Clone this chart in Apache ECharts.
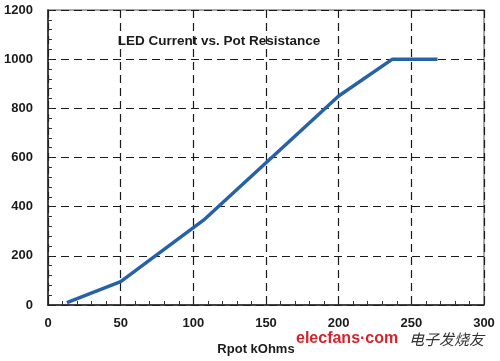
<!DOCTYPE html>
<html><head><meta charset="utf-8">
<script src="https://cdn.jsdelivr.net/npm/echarts@6/dist/echarts.min.js"></script>
<style>html,body{margin:0;padding:0;background:#fff}#c{width:500px;height:361px}</style>
</head><body><div id="c"></div>
<script>
const rpot = [13, 50, 107, 200, 237, 268];
const current = [10, 95, 345, 850, 1000, 1000];
const title = 'LED Current vs. Pot Resistance';
const xName = 'Rpot kOhms';

const chart = echarts.init(document.getElementById('c'), null, {renderer: 'canvas'});
const font = 'Arial';
chart.setOption({
  animation: false,
  backgroundColor: '#fff',
  grid: {left: 48, right: 16, top: 10, bottom: 54, show: true, borderColor: '#8a8a8a', borderWidth: 1.5},
  title: {text: title, left: 214, top: 29, textAlign: 'center',
    textStyle: {fontFamily: font, fontSize: 13.5, fontWeight: 'bold', color: '#1a1a1a'}},
  xAxis: {
    type: 'value', min: 0, max: 300, interval: 50,
    name: xName, nameLocation: 'middle', nameGap: 38,
    nameTextStyle: {fontFamily: font, fontSize: 13, fontWeight: 'bold', color: '#1a1a1a', padding: [0, 20, 0, 0]},
    axisLine: {show: true, lineStyle: {color: '#222', width: 1.5}},
    axisTick: {show: true, inside: true, length: 5, lineStyle: {color: '#222', width: 1}},
    minorTick: {show: true, splitNumber: 5, length: 4, lineStyle: {color: '#333', width: 1}},
    axisLabel: {fontFamily: font, fontSize: 13, fontWeight: 'bold', color: '#1a1a1a', margin: 12},
    splitLine: {show: true, lineStyle: {color: '#1a1a1a', type: [8, 5], width: 1.2}}
  },
  yAxis: {
    type: 'value', min: 0, max: 1200, interval: 200,
    axisLine: {show: true, lineStyle: {color: '#222', width: 1.5}},
    axisTick: {show: true, inside: true, length: 5, lineStyle: {color: '#222', width: 1}},
    minorTick: {show: true, splitNumber: 5, length: 4, lineStyle: {color: '#333', width: 1}},
    axisLabel: {fontFamily: font, fontSize: 13, fontWeight: 'bold', color: '#1a1a1a', margin: 15,
      formatter: v => String(v)},
    splitLine: {show: true, lineStyle: {color: '#1a1a1a', type: [8, 5], width: 1.2}}
  },
  series: [{
    type: 'line', data: rpot.map((x, i) => [x, current[i]]),
    showSymbol: false, lineStyle: {color: '#2762a8', width: 3.5}
  }],
  graphic: [
    {type: 'text', left: 296, top: 331, style: {text: 'elecfans·com', fill: '#d4232b', font: 'bold 16px Arial'}},
    {type: 'text', left: 409, top: 332, style: {text: '电子发烧友', fill: '#333', font: 'italic 15px "Noto Sans CJK SC"'}}
  ]
});
</script></body></html>
